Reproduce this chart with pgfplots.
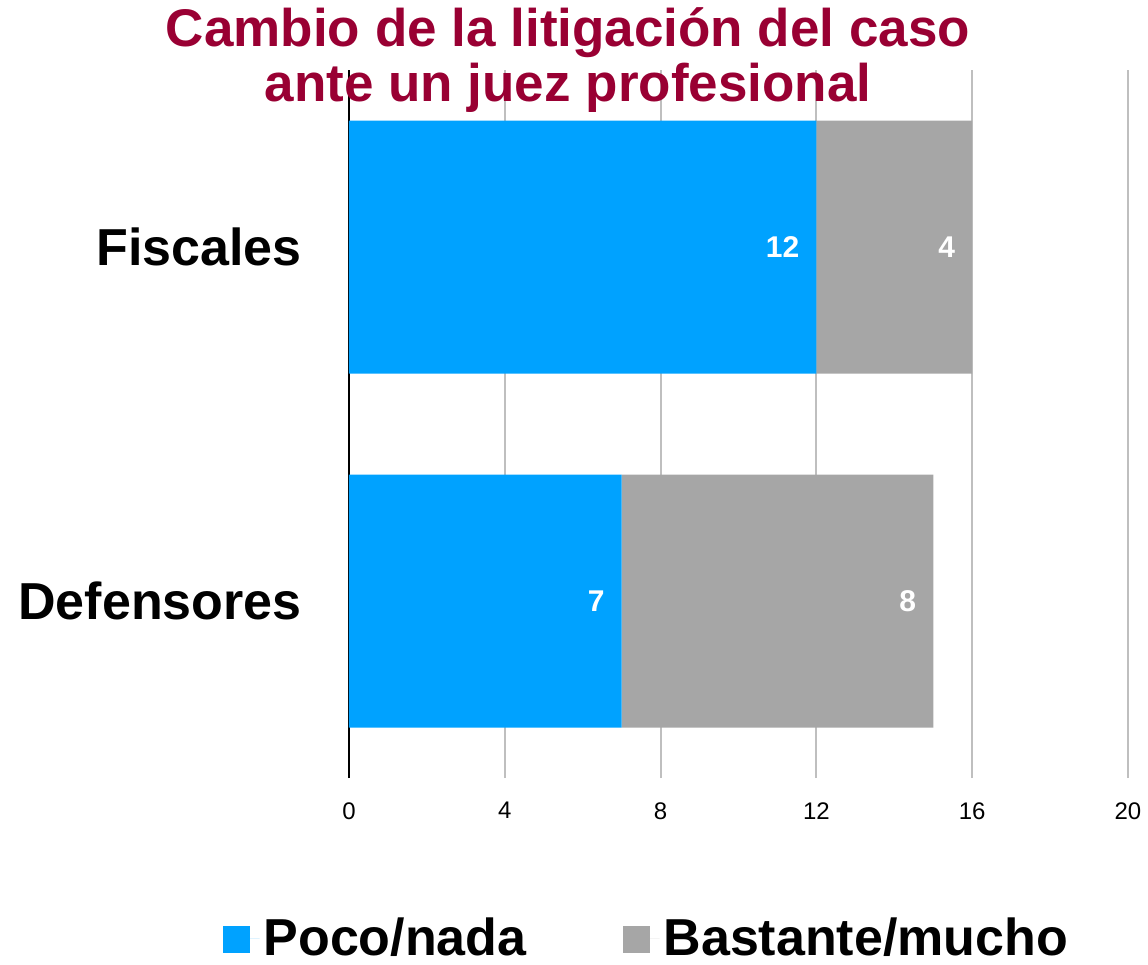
\documentclass[border=0pt]{standalone}
\usepackage{pgfplots}
\pgfplotsset{compat=1.18}
\usepackage{fontspec}
\setmainfont{Liberation Sans}
\definecolor{cblue}{HTML}{00A2FF}
\definecolor{cgray}{HTML}{A6A6A6}
\definecolor{ctitle}{HTML}{990033}
\definecolor{cgrid}{HTML}{BFBFBF}
\begin{document}
\begin{tikzpicture}[x=1pt,y=1pt]
\useasboundingbox (0,0) rectangle (574,482.5);
\begin{axis}[
 at={(174.5pt,93.5pt)}, anchor=south west,
 width=389.5pt, height=354pt, scale only axis,
 xbar stacked, bar width=126.5pt,
 xmin=0,xmax=20,ymin=-0.5,ymax=1.5,
 axis line style={draw=none},
 major tick length=0pt,
 xtick={4,8,12,16,20},
 extra x ticks={0}, extra x tick labels={0},
 extra x tick style={grid=major, grid style={black,line width=1pt}},
 xmajorgrids, grid style={cgrid,line width=1pt},
 ytick={0,1}, yticklabels={Defensores,Fiscales},
 yticklabel style={font=\fontsize{26}{30}\selectfont\bfseries, inner sep=0pt, xshift=-23.5pt},
 xticklabel style={font=\fontsize{12}{14}\selectfont, inner sep=0pt, yshift=-12pt, anchor=north},
 /pgf/number format/assume math mode=true,
 nodes near coords, point meta=explicit symbolic,
 every node near coord/.append style={font=\fontsize{15}{17}\selectfont\bfseries, text=white, anchor=east, xshift={\pgfplotspointmeta*9.7375pt-5pt}},
 legend style={draw=none, fill=none, at={(0.383,-0.226)}, anchor=center,
   font=\fontsize{26}{30}\selectfont\bfseries,
   /tikz/every even column/.append style={column sep=46pt}},
 legend columns=2,
 legend image code/.code={\fill[#1] (0pt,-7.5pt) rectangle (13.5pt,6pt); \path (13.5pt,0pt) -- (18.5pt,0pt);},
]
\addplot[fill=cblue, draw=none] coordinates {(12,1) [12] (7,0) [7]};
\addplot[fill=cgray, draw=none] coordinates {(4,1) [4] (8,0) [8]};
\legend{Poco/nada, Bastante/mucho}
\end{axis}
\node[anchor=base, text=ctitle, font=\fontsize{26.5}{29}\selectfont\bfseries] at (284,459) {Cambio de la litigación del caso};
\node[anchor=base, text=ctitle, font=\fontsize{26.5}{29}\selectfont\bfseries] at (284,431.5) {ante un juez profesional};
\end{tikzpicture}
\end{document}
